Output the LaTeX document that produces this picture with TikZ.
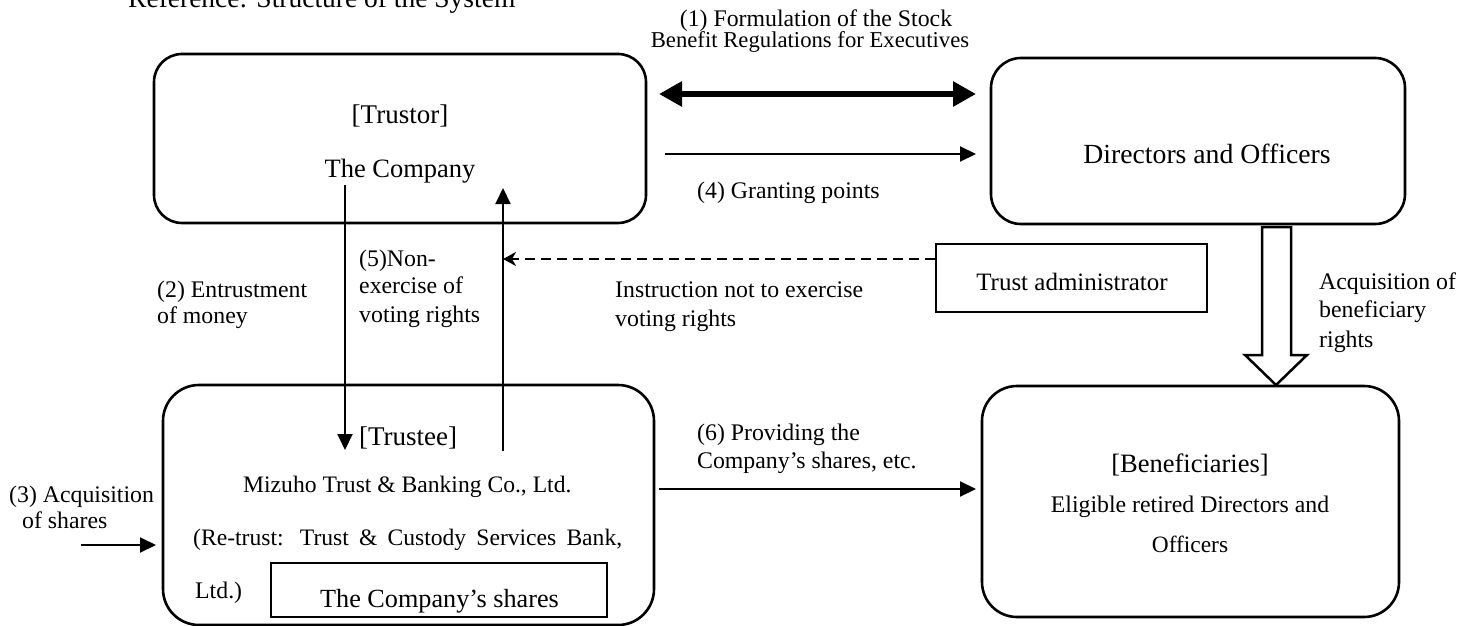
\documentclass[tikz,border=0pt]{standalone}
\usepackage{fontspec}
\setmainfont{Liberation Serif}
\usetikzlibrary{arrows.meta}
\tikzset{
  rbox/.style={draw, line width=2.6pt, inner sep=0pt},
  sbox/.style={draw, line width=2.4pt, inner sep=0pt},
  lbl/.style={inner sep=0pt, anchor=base west, font=\fontsize{23.8}{28}\selectfont},
  lblc/.style={inner sep=0pt, anchor=base, font=\fontsize{23.8}{28}\selectfont},
  ttl/.style={inner sep=0pt, anchor=base, font=\fontsize{27}{32}\selectfont},
  conn/.style={line width=2pt, -{Triangle[length=16pt,width=15pt]}},
}
\begin{document}
\begin{tikzpicture}[x=1pt,y=-1pt]
\useasboundingbox (0,0) rectangle (1475,626);
% title (cut at top, as in the reference)
\node[lbl, font=\fontsize{27.5}{32}\selectfont] (title) at (128,8) {Reference: Structure of the System};
% boxes
\node[rbox, rounded corners=28pt, minimum width=492pt, minimum height=169pt] (trustor) at (400,138.5) {};
\node[rbox, rounded corners=30pt, minimum width=414pt, minimum height=166pt] (dirs) at (1198,141) {};
\node[sbox, minimum width=271pt, minimum height=68pt] (admin) at (1071.5,278) {};
\node[rbox, rounded corners=36pt, minimum width=491pt, minimum height=240pt] (trustee) at (408.5,505) {};
\node[sbox, line width=2pt, minimum width=336pt, minimum height=54pt] (shares) at (439,590) {};
\node[rbox, rounded corners=35pt, minimum width=417pt, minimum height=231pt] (benef) at (1190.5,501.5) {};
% box texts
\node[ttl] (t1) at (400,123) {[Trustor]};
\node[ttl, font=\fontsize{26.5}{32}\selectfont] (t2) at (400,177) {The Company};
\node[ttl, font=\fontsize{27.7}{32}\selectfont] (t3) at (1207,163) {Directors and Officers};
\node[lblc, font=\fontsize{25}{30}\selectfont] (t4) at (1072,290) {Trust administrator};
\node[ttl, anchor=base west] (t5) at (359,445) {[Trustee]};
\node[lbl, font=\fontsize{23.6}{28}\selectfont] (t6) at (243,492) {Mizuho Trust \& Banking Co., Ltd.};
\node[lbl, font=\fontsize{23.6}{28}\selectfont] (t7) at (193,545) {\makebox[429pt][s]{(Re-trust: Trust \& Custody Services Bank,}};
\node[lbl] (t8) at (195,598) {Ltd.)};
\node[lbl, font=\fontsize{26.2}{30}\selectfont] (t9) at (320,607) {The Company’s shares};
\node[ttl, font=\fontsize{26.5}{32}\selectfont] (t10) at (1190,472) {[Beneficiaries]};
\node[lblc] (t11) at (1190,512) {Eligible retired Directors and};
\node[lblc, font=\fontsize{23.4}{28}\selectfont] (t12) at (1190,552) {Officers};
% labels
\node[lblc] (l1a) at (816,27) {(1) Formulation of the Stock};
\node[lblc, font=\fontsize{22.7}{26}\selectfont] (l1b) at (810,48) {Benefit Regulations for Executives};
\node[lbl] (l4) at (697,198) {(4) Granting points};
\node[lbl] (l2a) at (157,297) {(2) Entrustment};
\node[lbl] (l2b) at (157,323) {of money};
\node[lbl] (l5a) at (359,266) {(5)Non-};
\node[lbl] (l5b) at (359,293) {exercise of};
\node[lbl] (l5c) at (359,322) {voting rights};
\node[lbl] (lia) at (615,297) {Instruction not to exercise};
\node[lbl] (lib) at (615,326) {voting rights};
\node[lbl] (laa) at (1319,289) {Acquisition of};
\node[lbl] (lab) at (1319,317) {beneficiary};
\node[lbl] (lac) at (1319,347) {rights};
\node[lbl] (l3a) at (9,502) {(3) Acquisition};
\node[lbl] (l3b) at (22,528) {of shares};
\node[lbl] (l6a) at (697,440) {(6) Providing the};
\node[lbl] (l6b) at (697,468) {Company’s shares, etc.};
% connector end points
\coordinate (d1l) at (659,94);
\coordinate (d1r) at (976,94);
\coordinate (a4s) at (665,154);
\coordinate (a4e) at (976,154);
\coordinate (a2s) at (345,185);
\coordinate (a2e) at (345,450);
\coordinate (a5s) at (503,451);
\coordinate (a5e) at (503,188);
\coordinate (ads) at (admin.west |- 0,259);
\coordinate (ade) at (503,259);
\coordinate (a3s) at (81,545);
\coordinate (a3e) at (156,545);
\coordinate (a6s) at (659,489);
\coordinate (a6e) at (976,489);
% connectors
\draw[line width=6pt, {Triangle[length=23pt,width=24pt]}-{Triangle[length=23pt,width=24pt]}] (d1l) -- (d1r);
\draw[conn] (a4s) -- (a4e);
\draw[conn] (a2s) -- (a2e);
\draw[conn] (a5s) -- (a5e);
\draw[line width=2pt, dash pattern=on 10pt off 6pt, -{Stealth[length=13pt,width=14pt,inset=4pt]}] (ads) -- (ade);
\draw[conn] (a3s) -- (a3e);
\draw[conn] (a6s) -- (a6e);
% hollow arrow
\draw[line width=2.5pt, fill=white, line join=miter] (1262,227) -- (1291,227) -- (1291,355) -- (1307,355) -- (1276,385) -- (1245,355) -- (1262,355) -- cycle;
\end{tikzpicture}
\end{document}
